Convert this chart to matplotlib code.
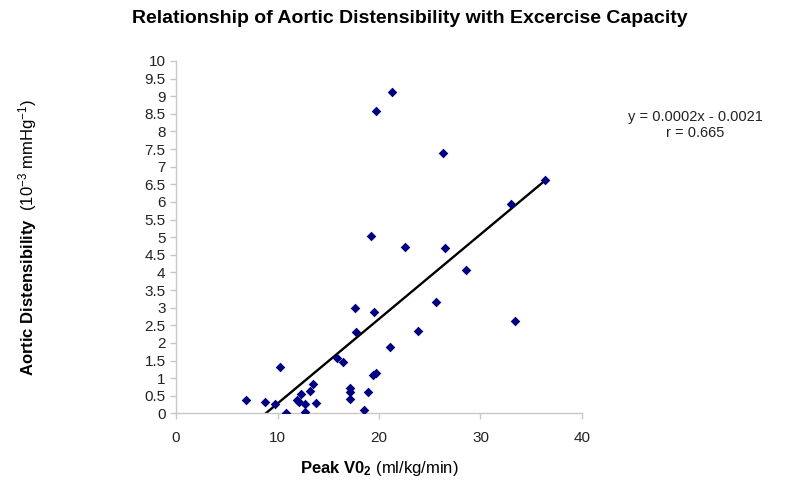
import matplotlib.pyplot as plt
import numpy as np

plt.rcParams['font.family'] = ['Liberation Sans', 'DejaVu Sans']
plt.rcParams['mathtext.fontset'] = 'custom'
plt.rcParams['mathtext.rm'] = 'Liberation Sans'
plt.rcParams['mathtext.bf'] = 'Liberation Sans:bold'
plt.rcParams['mathtext.it'] = 'Liberation Sans:italic'

# peak VO2 (ml/kg/min) vs aortic distensibility (10^-3 mmHg^-1)
peak_vo2 = [21.3, 19.7, 26.3, 36.4, 33.0, 19.2, 22.6, 26.5, 28.6, 25.6,
            33.4, 17.65, 19.5, 17.75, 23.8, 21.1, 15.9, 16.5, 10.2, 19.4,
            19.7, 13.5, 13.2, 12.3, 17.1, 17.1, 18.9, 17.1, 6.9, 8.8,
            9.8, 11.95, 12.15, 12.7, 13.8, 10.8, 12.7, 18.55]
distensibility = [9.11, 8.59, 7.39, 6.62, 5.94, 5.02, 4.73, 4.69, 4.08, 3.16,
                  2.62, 2.99, 2.89, 2.31, 2.35, 1.89, 1.58, 1.45, 1.33, 1.08,
                  1.14, 0.83, 0.65, 0.56, 0.72, 0.60, 0.60, 0.41, 0.37, 0.31,
                  0.28, 0.38, 0.32, 0.27, 0.30, 0.02, 0.04, 0.09]

# trend line (scaled by 1000)
slope = 0.24
intercept = -2.12

fig = plt.figure(figsize=(8, 4.91), dpi=100)
ax = fig.add_axes([0.22, 0.158, 0.5075, 0.718])

ax.scatter(peak_vo2, distensibility, marker='D', s=24, color='#000080',
           zorder=3, linewidths=0)

x_start = -intercept / slope
x_end = max(peak_vo2)
line_x = np.array([x_start, x_end])
ax.plot(line_x, slope * line_x + intercept, color='black', lw=1.7, zorder=2)

ax.set_xlim(0, 40)
ax.set_ylim(0, 10)
ax.set_xticks([0, 10, 20, 30, 40])
yt = np.arange(0, 10.01, 0.5)
ax.set_yticks(yt)
ax.set_yticklabels([f"{v:g}" for v in yt])

for s in ['top', 'right']:
    ax.spines[s].set_visible(False)
for s in ['left', 'bottom']:
    ax.spines[s].set_color('#c8c8c8')
    ax.spines[s].set_linewidth(1.0)
ax.tick_params(colors='#c8c8c8', labelcolor='#222222', labelsize=11,
               length=4, width=1)
ax.tick_params(axis='x', pad=9)

fig.text(0.512, 0.962, "Relationship of Aortic Distensibility with Excercise Capacity",
         ha='center', va='center', fontsize=14, fontweight='bold')

ax.set_xlabel(r"$\bf{Peak\ V0_2}$ (ml/kg/min)", fontsize=12, labelpad=10)
ax.set_ylabel(r"$\bf{Aortic\ Distensibility}$  (10$^{-3}$ mmHg$^{-1}$)",
              fontsize=12, labelpad=76)

fig.text(0.869, 0.745, "y = 0.0002x - 0.0021\nr = 0.665", ha='center',
         va='center', fontsize=10.5, linespacing=1.2, color='#222222')

fig.savefig('out.png', dpi=100)
